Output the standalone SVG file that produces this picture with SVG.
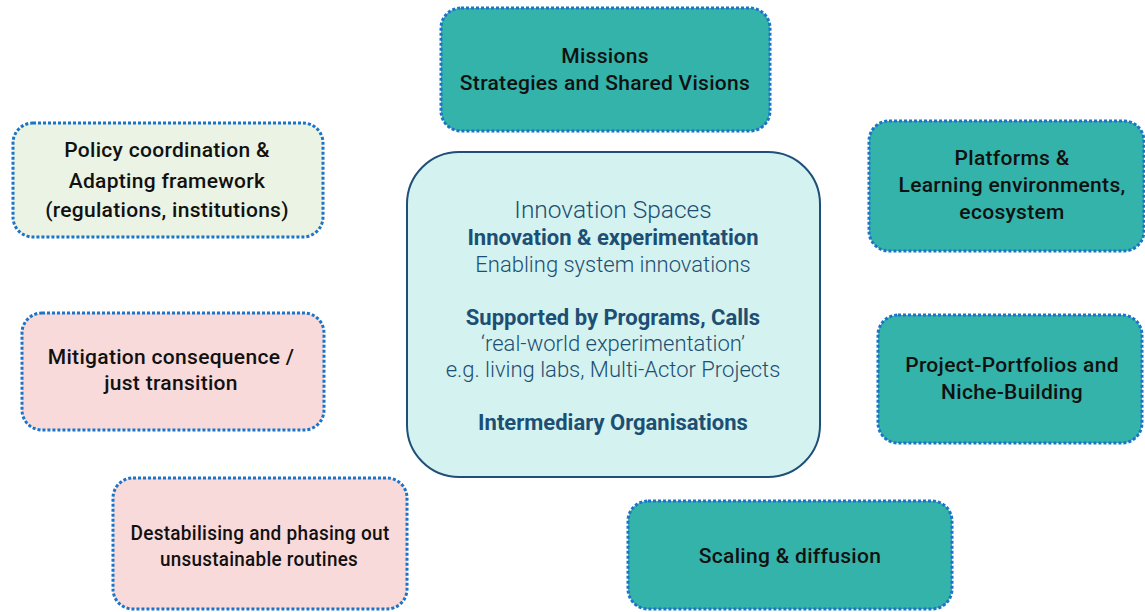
<svg xmlns="http://www.w3.org/2000/svg" width="1145" height="612" viewBox="0 0 1145 612">
<style>
.box{stroke:#1b74c8;stroke-width:3;stroke-dasharray:3 2}
.teal{fill:#33b3a9}
.pink{fill:#f9dadb}
.green{fill:#ebf3e4}
.t{font-family:Roboto,"Liberation Sans",sans-serif;font-size:21px;font-weight:500;letter-spacing:0.3px;fill:#111;text-anchor:middle}
.c{font-family:Roboto,"Liberation Sans",sans-serif;fill:#1c4f73;text-anchor:middle}
.l{font-weight:300;font-size:22px}
.b{font-weight:700;font-size:22px}
</style>
<rect width="1145" height="612" fill="#fff"/>
<g id="center">
<rect x="407" y="152" width="413" height="325" rx="52" fill="#d4f2ef" stroke="#1f4f78" stroke-width="2"/>
<text class="c l" x="613" y="218" style="font-size:24.5px">Innovation Spaces</text>
<text class="c b" x="613" y="245">Innovation &amp; experimentation</text>
<text class="c l" x="613" y="272">Enabling system innovations</text>
<text class="c b" x="613" y="325">Supported by Programs, Calls</text>
<text class="c l" x="613" y="351">‘real-world experimentation’</text>
<text class="c l" x="613" y="377">e.g. living labs, Multi-Actor Projects</text>
<text class="c b" x="613" y="430">Intermediary Organisations</text>
</g>
<g id="missions">
<rect class="box teal" x="441" y="8" width="329" height="123" rx="20"/>
<text class="t" x="605" y="63">Missions</text>
<text class="t" x="605" y="90">Strategies and Shared Visions</text>
</g>
<g id="policy">
<rect class="box green" x="13" y="123" width="310" height="114" rx="20"/>
<text class="t" x="167" y="157">Policy coordination &amp;</text>
<text class="t" x="167" y="188">Adapting framework</text>
<text class="t" x="167" y="217">(regulations, institutions)</text>
</g>
<g id="platforms">
<rect class="box teal" x="869" y="121" width="275" height="130" rx="20"/>
<text class="t" x="1012" y="165">Platforms &amp;</text>
<text class="t" x="1012" y="192">Learning environments,</text>
<text class="t" x="1012" y="219">ecosystem</text>
</g>
<g id="portfolios">
<rect class="box teal" x="878" y="315" width="264" height="128" rx="20"/>
<text class="t" x="1012" y="372">Project-Portfolios and</text>
<text class="t" x="1012" y="399">Niche-Building</text>
</g>
<g id="mitigation">
<rect class="box pink" x="22" y="313" width="302" height="117" rx="20"/>
<text class="t" x="171" y="364">Mitigation consequence /</text>
<text class="t" x="171" y="390">just transition</text>
</g>
<g id="destabilising">
<rect class="box pink" x="113" y="478" width="294" height="131" rx="20"/>
<text class="t" x="260" y="540" textLength="259" lengthAdjust="spacingAndGlyphs">Destabilising and phasing out</text>
<text class="t" x="259" y="566" textLength="198" lengthAdjust="spacingAndGlyphs">unsustainable routines</text>
</g>
<g id="scaling">
<rect class="box teal" x="628" y="501" width="324" height="108" rx="20"/>
<text class="t" x="790" y="563">Scaling &amp; diffusion</text>
</g>
<g id="connectors"/>
</svg>
